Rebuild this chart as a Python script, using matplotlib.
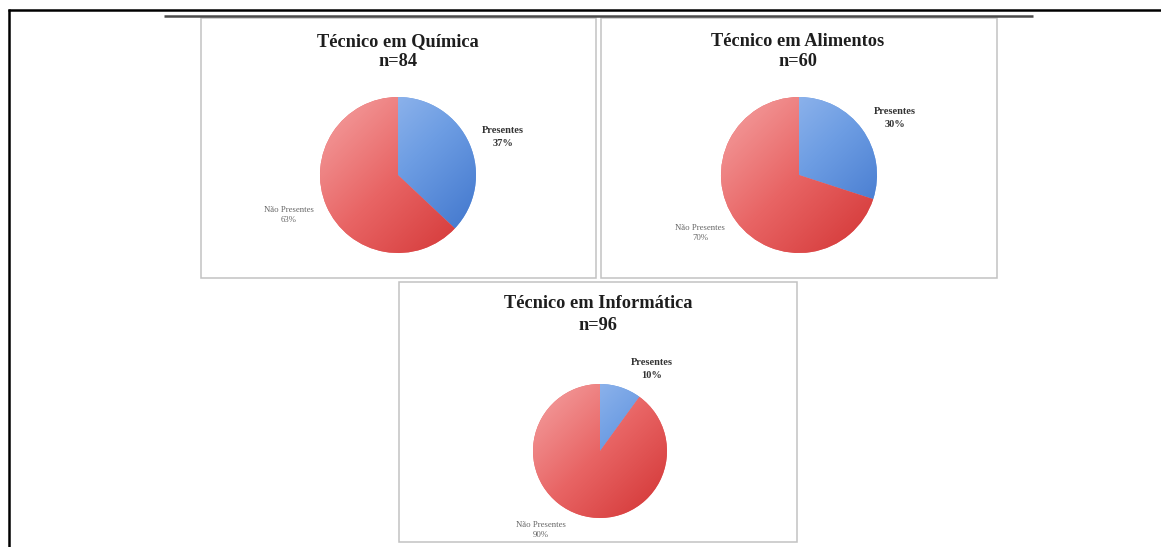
import matplotlib
matplotlib.use("Agg")
import matplotlib.pyplot as plt
import numpy as np
from matplotlib.colors import LinearSegmentedColormap
from matplotlib.patches import Rectangle

# ---- data ----
courses = ["Técnico em Química", "Técnico em Alimentos", "Técnico em Informática"]
n_values = [84, 60, 96]
presentes = [37, 30, 10]
nao_presentes = [63, 70, 90]
slice_labels = ["Presentes", "Não Presentes"]

# ---- layout (pixels, top-left origin) ----
W, H = 1161, 547
boxes = [(201, 18, 596, 278), (601, 18, 997, 278), (399, 282, 797, 542)]
centers = [(398, 175), (799, 175), (600, 451)]
radii = [78, 78, 67]
title_x = [398, 798, 598]
title_y1 = [42, 42, 304]
title_y2 = [62, 62, 326]
pres_lbl = [(503, 137), (895, 118), (652, 369)]
nao_lbl = [(289, 215), (700, 233), (541, 530)]

blue_cmap = LinearSegmentedColormap.from_list("b", ["#a9c6f3", "#6d9de3", "#3a70c9"])
red_cmap = LinearSegmentedColormap.from_list("r", ["#f5a3a3", "#e86464", "#d23333"])

def Y(y):
    return H - y

fig = plt.figure(figsize=(W / 100, H / 100), dpi=100)
ax = fig.add_axes([0, 0, 1, 1])

N = 200
rr, cc = np.mgrid[0:N, 0:N]
grad = (rr + cc) / (2.0 * (N - 1))

for i in range(3):
    cx, cy = centers[i]
    r = radii[i]
    wedges, _ = ax.pie([presentes[i], nao_presentes[i]], startangle=90, counterclock=False,
                       center=(cx, Y(cy)), radius=r, colors=["#6d9de3", "#e86767"],
                       wedgeprops=dict(linewidth=0), frame=True)
    for w, cm in zip(wedges, [blue_cmap, red_cmap]):
        im = ax.imshow(grad, cmap=cm, extent=(cx - r, cx + r, Y(cy) - r, Y(cy) + r),
                       origin="upper", zorder=3, interpolation="bilinear")
        im.set_clip_path(w)
    # panel box
    x0, y0, x1, y1 = boxes[i]
    ax.add_patch(Rectangle((x0, Y(y1)), x1 - x0, y1 - y0, fill=False,
                           ec="#c2c2c2", lw=1.1, zorder=1))
    # titles
    ax.text(title_x[i], Y(title_y1[i]), courses[i], ha="center", va="center",
            fontsize=13.2, fontweight="bold", family="Liberation Serif", color="#1e1e1e")
    ax.text(title_x[i], Y(title_y2[i]), f"n={n_values[i]}", ha="center", va="center",
            fontsize=13.2, fontweight="bold", family="Liberation Serif", color="#1e1e1e")
    # slice labels
    px, py = pres_lbl[i]
    ax.text(px, Y(py), f"{slice_labels[0]}\n{presentes[i]}%", ha="center", va="center",
            fontsize=7.5, fontweight="bold", family="Liberation Serif", color="#333333",
            linespacing=1.45)
    qx, qy = nao_lbl[i]
    ax.text(qx, Y(qy), f"{slice_labels[1]}\n{nao_presentes[i]}%", ha="center", va="center",
            fontsize=6.3, family="Liberation Serif", color="#666666", linespacing=1.45)

# frame lines
ax.plot([8, W], [Y(10), Y(10)], color="black", lw=1.8, solid_capstyle="butt")
ax.plot([9, 9], [Y(9), 0], color="black", lw=1.8, solid_capstyle="butt")
ax.plot([164, 1033], [Y(16), Y(16)], color="#4a4a4a", lw=1.8, solid_capstyle="butt")

ax.set_xlim(0, W)
ax.set_ylim(0, H)
ax.set_aspect("auto")
ax.axis("off")

fig.savefig("out.png", dpi=100)
